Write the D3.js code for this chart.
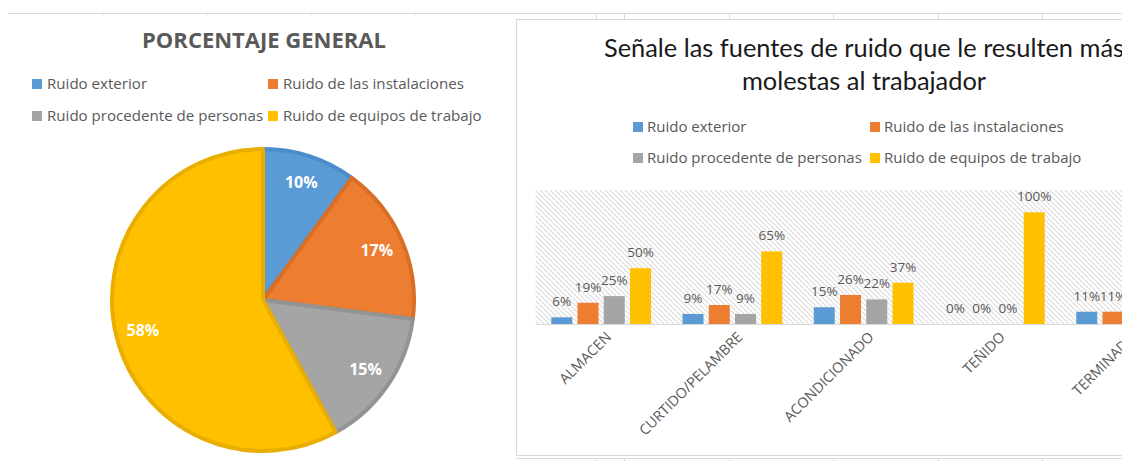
<!DOCTYPE html>
<html>
<head>
<meta charset="utf-8">
<script src="https://cdn.jsdelivr.net/npm/d3@7"></script>
<style>
  body { margin: 0; background: #fff; }
  svg text { font-family: "Open Sans", sans-serif; }
</style>
</head>
<body>
<svg id="chart" width="1122" height="461"></svg>
<script>
//Series shared by both charts
var seriesNames = ["Ruido exterior", "Ruido de las instalaciones", "Ruido procedente de personas", "Ruido de equipos de trabajo"];
var seriesColors = ["#5b9bd5", "#ed7d31", "#a5a5a5", "#ffc000"];
var seriesBorders = ["#4d8ccb", "#d96f27", "#939393", "#e8ae00"];

//Pie: porcentaje general
var pieValues = [0.10, 0.17, 0.15, 0.58];

//Bars: per area
var areas = ["ALMACEN", "CURTIDO/PELAMBRE", "ACONDICIONADO", "TEÑIDO", "TERMINADO"];
var exterior = [0.06, 0.09, 0.15, 0, 0.11];
var instalaciones = [0.19, 0.17, 0.26, 0, 0.11];
var personas = [0.25, 0.09, 0.22, 0, 0.11];
var equipos = [0.50, 0.65, 0.37, 1.00, 0.67];

var svg = d3.select("#chart");
var pct = d3.format(".0%");

//Spreadsheet cell lines behind the charts
var grid = svg.append("g").attr("stroke", "#dadada").attr("stroke-width", 1);
grid.append("line").attr("x1", 8).attr("x2", 1122).attr("y1", 13.5).attr("y2", 13.5);
grid.append("line").attr("x1", 516).attr("x2", 1122).attr("y1", 458.5).attr("y2", 458.5);
[103, 207, 311, 415].forEach(function(x){
  grid.append("line").attr("x1", x + 0.5).attr("x2", x + 0.5).attr("y1", 13).attr("y2", 15);
});
[596, 624, 729, 833, 938, 1042].forEach(function(x){
  grid.append("line").attr("x1", x + 0.5).attr("x2", x + 0.5).attr("y1", 13).attr("y2", 20);
  grid.append("line").attr("x1", x + 0.5).attr("x2", x + 0.5).attr("y1", 458).attr("y2", 461);
});

//Hatch pattern for the plot area
var defs = svg.append("defs");
var hatch = defs.append("pattern")
  .attr("id", "hatch")
  .attr("patternUnits", "userSpaceOnUse")
  .attr("width", 5)
  .attr("height", 5);
hatch.append("path")
  .attr("d", "M-1,-1 L6,6 M-1,4 L1,6 M4,-1 L6,1")
  .attr("stroke", "#dcdcdc")
  .attr("stroke-width", 1.2);

// ---------------- Left chart: pie ----------------
var pieG = svg.append("g");
pieG.append("text")
  .attr("x", 264).attr("y", 48)
  .attr("text-anchor", "middle")
  .attr("font-size", 22)
  .attr("font-weight", "bold")
  .attr("fill", "#595959")
  .text("PORCENTAJE GENERAL");

var legL = pieG.selectAll(".legL")
  .data(seriesNames)
  .enter()
  .append("g")
  .attr("transform", function(d, i){
    return "translate(" + (i % 2 ? 268 : 32) + "," + (i < 2 ? 84 : 116) + ")";
  });
legL.append("rect")
  .attr("x", 0).attr("y", -5)
  .attr("width", 10).attr("height", 10)
  .attr("fill", function(d, i){ return seriesColors[i]; });
legL.append("text")
  .attr("x", 15).attr("y", 5)
  .attr("font-size", 15.1)
  .attr("fill", "#595959")
  .text(function(d){ return d; });

var pie = d3.pie().sort(null).value(function(d){ return d; });
var arc = d3.arc().innerRadius(0).outerRadius(151);
var labelArc = d3.arc().innerRadius(124).outerRadius(124);

var slices = pieG.append("g")
  .attr("transform", "translate(263,300)")
  .selectAll("g")
  .data(pie(pieValues))
  .enter()
  .append("g");
slices.append("path")
  .attr("d", arc)
  .attr("fill", function(d, i){ return seriesColors[i]; })
  .attr("stroke", function(d, i){ return seriesBorders[i]; })
  .attr("stroke-width", 4)
  .attr("stroke-linejoin", "round");
slices.append("text")
  .attr("transform", function(d){ return "translate(" + labelArc.centroid(d) + ")"; })
  .attr("dy", "0.35em")
  .attr("text-anchor", "middle")
  .attr("font-size", 16)
  .attr("font-weight", "bold")
  .attr("fill", "#fff")
  .text(function(d){ return pct(d.data); });

// ---------------- Right chart: grouped bars ----------------
var barG = svg.append("g");
barG.append("rect")
  .attr("x", 516.5).attr("y", 19.5)
  .attr("width", 700).attr("height", 436)
  .attr("fill", "#fff")
  .attr("stroke", "#d9d9d9");

barG.append("text")
  .attr("x", 864).attr("y", 57)
  .attr("text-anchor", "middle")
  .attr("font-size", 25.4)
  .attr("fill", "#1a1a1a")
  .style("font-family", "Lato, sans-serif")
  .selectAll("tspan")
  .data(["Señale las fuentes de ruido que le resulten más", "molestas al trabajador"])
  .enter()
  .append("tspan")
  .attr("x", 864)
  .attr("dy", function(d, i){ return i ? 33 : 0; })
  .text(function(d){ return d; });

var legR = barG.selectAll(".legR")
  .data(seriesNames)
  .enter()
  .append("g")
  .attr("transform", function(d, i){
    return "translate(" + (i % 2 ? 870 : 633) + "," + (i < 2 ? 127 : 158) + ")";
  });
legR.append("rect")
  .attr("x", 0).attr("y", -5)
  .attr("width", 10).attr("height", 10)
  .attr("fill", function(d, i){ return seriesColors[i]; });
legR.append("text")
  .attr("x", 14).attr("y", 5)
  .attr("font-size", 15)
  .attr("fill", "#595959")
  .text(function(d){ return d; });

var plot = { left: 535.5, top: 190, bottom: 324 };
var x0 = d3.scaleBand()
  .domain(areas)
  .range([plot.left, plot.left + 131.25 * areas.length]);
var x1 = d3.scaleBand()
  .domain(d3.range(seriesNames.length))
  .range([0, x0.bandwidth()])
  .paddingInner(0.2)
  .paddingOuter(0.6);
var y = d3.scaleLinear()
  .domain([0, 1.2])
  .range([plot.bottom, plot.top]);

barG.append("rect")
  .attr("x", plot.left).attr("y", y(1.2))
  .attr("width", x0.range()[1] - plot.left)
  .attr("height", y(0) - y(1.2))
  .attr("fill", "url(#hatch)");

var rows = areas.map(function(a, k){
  return { area: a, values: [exterior[k], instalaciones[k], personas[k], equipos[k]] };
});

var groups = barG.selectAll(".grp")
  .data(rows)
  .enter()
  .append("g")
  .attr("transform", function(d){ return "translate(" + x0(d.area) + ",0)"; });
groups.selectAll("rect")
  .data(function(d){ return d.values; })
  .enter()
  .append("rect")
  .attr("x", function(d, i){ return x1(i); })
  .attr("y", function(d){ return y(d); })
  .attr("width", x1.bandwidth())
  .attr("height", function(d){ return y(0) - y(d); })
  .attr("fill", function(d, i){ return seriesColors[i]; });
groups.selectAll("text")
  .data(function(d){ return d.values; })
  .enter()
  .append("text")
  .attr("x", function(d, i){ return x1(i) + x1.bandwidth() / 2; })
  .attr("y", function(d){ return y(d) - 11; })
  .attr("text-anchor", "middle")
  .attr("font-size", 13.5)
  .attr("fill", "#595959")
  .text(function(d){ return pct(d); });

//Category axis
var xAxis = barG.append("g")
  .attr("transform", "translate(0," + plot.bottom + ")")
  .call(d3.axisBottom(x0).tickSize(0).tickPadding(0));
xAxis.select(".domain").attr("stroke", "#d9d9d9");
xAxis.selectAll("text")
  .attr("font-size", 14.3)
  .attr("fill", "#595959")
  .attr("text-anchor", "end")
  .attr("dy", 0)
  .attr("y", 0)
  .attr("transform", "translate(11,14) rotate(-45)");
</script>
</body>
</html>
